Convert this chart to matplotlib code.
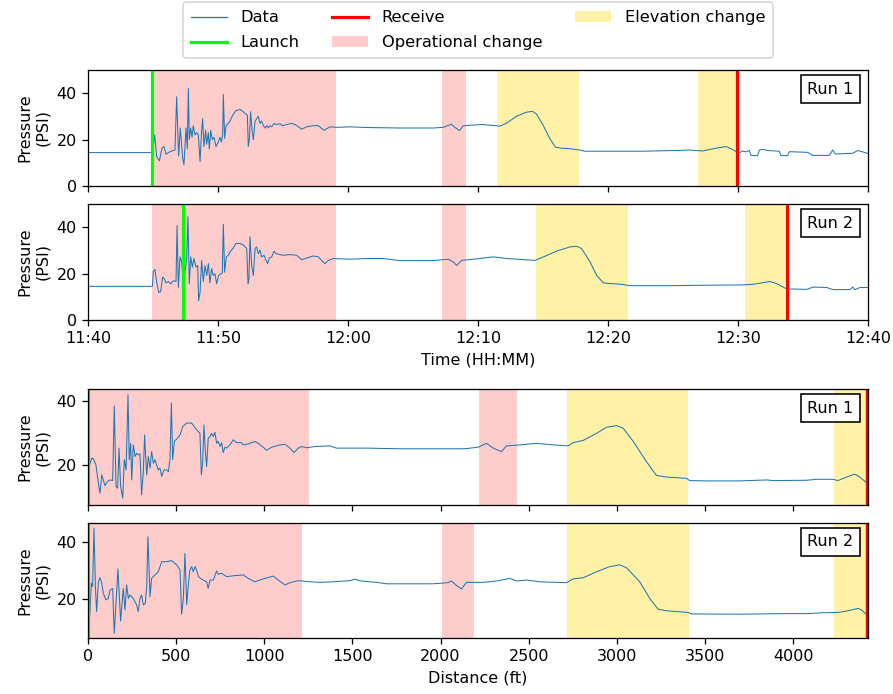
import matplotlib.pyplot as plt
import matplotlib.dates as mdates
import numpy as np
from matplotlib.lines import Line2D
from matplotlib.patches import Patch

# Run 1, pressure vs time (minutes after 11:40)
run1_min = [0, 4.82, 4.97, 5.13, 5.28, 5.49, 5.69, 5.85, 6.00, 6.18,
            6.44, 6.69, 6.82, 6.97, 7.10, 7.28, 7.38, 7.54, 7.64, 7.72,
            7.79, 7.90, 8.00, 8.10, 8.23, 8.36, 8.49, 8.62, 8.72, 8.82,
            8.92, 9.05, 9.13, 9.26, 9.33, 9.44, 9.56, 9.69, 9.85, 10.03,
            10.15, 10.26, 10.36, 10.41, 10.51, 10.62, 10.79, 10.92, 11.18, 11.38,
            11.69, 11.95, 12.13, 12.26, 12.33, 12.41, 12.51, 12.62, 12.72, 12.85,
            12.97, 13.10, 13.23, 13.36, 13.49, 13.62, 13.74, 13.87, 14.00, 14.13,
            14.31, 14.46, 14.77, 14.97, 15.28, 15.67, 15.92, 16.44, 16.82, 17.33,
            17.72, 18.15, 18.62, 19.13, 20.15, 21.44, 24.0, 26.56, 27.33, 27.95,
            28.28, 28.59, 28.85, 29.36, 30.38, 31.67, 32.18, 32.95, 33.72, 34.18,
            34.49, 35.00, 35.51, 35.97, 36.41, 37.05, 37.82, 38.21, 40.1, 42.67,
            45.23, 46.26, 47.28, 48.31, 49.08, 49.46, 50.05, 50.36, 50.62, 50.87,
            51.0, 51.51, 51.64, 51.9, 52.28, 53.18, 53.31, 53.82, 53.95, 55.36,
            55.74, 57.03, 57.28, 57.49, 58.82, 59.21, 59.59, 60.0]
run1_psi = [14.4, 14.4, 14.5, 22.0, 12.7, 10.8, 16.3, 17.0, 13.7, 14.4,
            15.1, 15.5, 38.5, 13.0, 25.0, 12.0, 9.2, 25.0, 16.0, 42.0,
            20.0, 25.0, 21.0, 26.0, 22.0, 23.0, 22.0, 10.5, 22.0, 29.0,
            17.0, 24.0, 18.0, 23.0, 16.0, 24.0, 20.0, 21.0, 17.0, 19.0,
            21.0, 19.0, 22.0, 39.5, 20.5, 26.0, 27.0, 28.0, 31.0, 32.5,
            33.0, 32.0, 31.0, 30.5, 17.0, 20.0, 32.0, 24.0, 20.0, 28.0,
            29.0, 30.0, 27.0, 28.0, 26.0, 25.0, 26.0, 25.0, 26.0, 25.5,
            27.0, 26.5, 26.8, 26.0, 26.5, 27.0, 26.5, 24.5, 25.5, 26.0,
            26.0, 24.0, 25.5, 25.3, 25.5, 25.2, 25.0, 25.0, 25.3, 26.6,
            25.0, 23.9, 25.9, 26.2, 26.5, 25.8, 27.0, 30.0, 31.8, 32.2,
            31.1, 26.3, 20.6, 16.7, 16.3, 16.1, 15.5, 15.0, 15.0, 15.0,
            15.3, 15.5, 15.1, 16.3, 17.0, 16.1, 14.2, 15.1, 14.7, 15.3,
            13.1, 13.1, 15.5, 15.8, 15.3, 15.0, 13.1, 13.1, 14.8, 14.5,
            13.2, 13.2, 15.5, 13.8, 14.1, 15.3, 14.7, 14.0]

# Run 2, pressure vs time (minutes after 11:40)
run2_min = [0, 4.95, 5.03, 5.15, 5.28, 5.44, 5.59, 5.74, 5.87, 6.00,
            6.18, 6.36, 6.56, 6.77, 6.85, 6.95, 7.08, 7.21, 7.31, 7.46,
            7.59, 7.69, 7.79, 7.90, 8.03, 8.15, 8.31, 8.44, 8.51, 8.62,
            8.74, 8.87, 9.00, 9.13, 9.26, 9.38, 9.51, 9.64, 9.77, 9.90,
            10.05, 10.21, 10.33, 10.41, 10.51, 10.64, 10.79, 10.97, 11.18, 11.38,
            11.69, 11.95, 12.21, 12.31, 12.38, 12.46, 12.59, 12.72, 12.85, 12.97,
            13.10, 13.23, 13.36, 13.54, 13.69, 13.82, 13.95, 14.13, 14.31, 14.46,
            14.77, 15.03, 15.54, 16.05, 16.44, 16.82, 17.33, 17.72, 17.97, 18.23,
            18.49, 18.87, 20.15, 21.44, 22.72, 24.0, 26.56, 27.72, 28.1, 28.36,
            28.74, 29.64, 31.18, 32.21, 34.38, 35.03, 36.05, 37.08, 37.59, 37.97,
            38.62, 39.13, 39.64, 40.15, 41.05, 41.69, 45.03, 47.59, 50.15, 51.18,
            52.46, 52.97, 53.74, 55.28, 55.79, 56.82, 57.33, 58.62, 58.82, 59.0,
            59.38, 60.0]
run2_psi = [14.5, 14.5, 20.9, 21.8, 16.3, 11.9, 12.2, 18.5, 17.7, 16.0,
            16.6, 15.6, 16.9, 16.6, 40.7, 14.1, 27.2, 25.0, 17.5, 20.6,
            26.5, 44.5, 15.6, 27.2, 22.8, 26.5, 22.8, 23.5, 8.3, 11.9,
            25.7, 16.6, 23.5, 19.2, 24.3, 16.0, 22.1, 19.2, 19.9, 15.6,
            19.2, 19.9, 20.3, 41.3, 20.6, 27.2, 27.9, 29.7, 31.1, 33.0,
            33.0, 32.3, 30.8, 15.6, 17.7, 35.9, 23.5, 19.2, 30.8, 31.5,
            28.6, 30.1, 27.2, 27.9, 25.7, 24.3, 26.7, 27.2, 29.7, 28.6,
            28.2, 27.9, 28.2, 27.9, 26.0, 26.7, 27.6, 27.2, 25.7, 24.3,
            25.7, 26.5, 26.2, 26.5, 26.5, 25.6, 25.6, 26.2, 25.0, 23.5,
            25.7, 26.2, 27.2, 26.5, 25.7, 27.2, 29.7, 31.5, 31.8, 30.8,
            25.0, 19.2, 16.0, 15.7, 15.4, 14.8, 14.8, 15.0, 15.1, 15.4,
            16.6, 15.7, 13.4, 13.2, 14.2, 14.0, 13.1, 13.1, 14.2, 13.1,
            14.0, 14.0]

# Run 1, pressure vs distance (ft)
run1_ft = [0, 4, 21, 30, 45, 59, 68, 78, 87, 96,
           110, 125, 140, 149, 159, 168, 176, 185, 197, 206,
           216, 227, 234, 242, 248, 257, 267, 276, 285, 295,
           304, 314, 321, 333, 342, 352, 361, 371, 380, 389,
           399, 408, 418, 431, 446, 456, 465, 473, 480, 490,
           503, 522, 537, 560, 588, 616, 635, 643, 650, 658,
           665, 673, 682, 692, 701, 711, 720, 730, 739, 749,
           758, 767, 777, 786, 796, 805, 824, 843, 871, 881,
           909, 947, 966, 994, 1013, 1042, 1089, 1117, 1146, 1168,
           1193, 1212, 1240, 1287, 1372, 1410, 1580, 1769, 1996, 2138,
           2214, 2261, 2299, 2346, 2374, 2450, 2545, 2639, 2724, 2752,
           2809, 2885, 2941, 2998, 3036, 3093, 3168, 3225, 3282, 3395,
           3414, 3509, 3698, 3849, 3887, 4076, 4132, 4227, 4255, 4303,
           4350, 4378, 4416, 4425]
run1_ft_psi = [18.5, 19.0, 22.1, 21.9, 20.0, 14.3, 11.2, 16.9, 15.3, 13.5,
               14.8, 15.3, 15.1, 38.3, 13.3, 12.7, 25.2, 13.3, 9.6, 21.6,
               18.4, 41.8, 21.6, 26.7, 15.3, 26.2, 22.6, 23.6, 23.1, 23.4,
               10.7, 17.9, 29.3, 16.9, 22.6, 19.0, 24.1, 20.5, 21.6, 20.0,
               18.4, 19.0, 16.4, 18.4, 18.4, 17.9, 21.6, 39.2, 21.6, 27.3,
               28.0, 29.3, 31.9, 33.0, 33.0, 30.9, 29.8, 16.9, 20.5, 32.4,
               24.7, 19.5, 28.3, 28.8, 29.8, 28.8, 30.1, 26.7, 27.3, 25.7,
               26.9, 23.8, 25.5, 25.2, 25.7, 26.2, 27.8, 26.9, 26.9, 26.2,
               26.5, 27.3, 26.7, 25.5, 24.5, 25.5, 26.2, 26.4, 25.2, 23.8,
               25.2, 25.7, 25.3, 25.7, 25.9, 25.2, 25.2, 25.0, 25.0, 25.0,
               25.5, 26.7, 25.2, 24.1, 25.9, 26.2, 26.7, 26.2, 25.9, 26.9,
               27.6, 29.8, 31.7, 32.2, 31.4, 27.3, 21.0, 16.7, 16.2, 15.8,
               15.1, 15.0, 15.0, 15.3, 15.1, 15.2, 15.5, 15.5, 15.1, 16.2,
               17.1, 16.2, 14.5, 14.3]

# Run 2, pressure vs distance (ft)
run2_ft = [0, 4, 11, 19, 26, 34, 42, 49, 59, 68,
           78, 87, 102, 115, 125, 140, 149, 170, 185, 200,
           210, 219, 229, 238, 257, 276, 285, 295, 304, 314,
           325, 333, 340, 352, 361, 380, 399, 418, 446, 474,
           503, 522, 531, 541, 550, 560, 569, 578, 588, 597,
           607, 616, 626, 645, 673, 682, 692, 711, 730, 739,
           758, 786, 824, 881, 909, 947, 994, 1051, 1079, 1117,
           1146, 1193, 1259, 1316, 1391, 1486, 1514, 1543, 1637, 1694,
           1958, 2043, 2062, 2091, 2119, 2147, 2242, 2318, 2393, 2431,
           2488, 2563, 2715, 2752, 2809, 2885, 2960, 3017, 3055, 3130,
           3187, 3235, 3282, 3405, 3424, 3698, 3925, 4076, 4170, 4255,
           4303, 4369, 4388, 4420, 4425]
run2_ft_psi = [8.2, 9.2, 15.6, 25.5, 24.3, 44.7, 24.3, 15.6, 26.0, 27.4,
               25.5, 22.0, 19.7, 20.2, 23.1, 23.7, 8.0, 30.5, 12.3, 23.7,
               16.2, 24.9, 20.2, 21.4, 20.2, 17.9, 15.6, 20.2, 21.4, 17.9,
               18.5, 24.3, 41.7, 20.8, 27.2, 28.4, 29.5, 33.0, 33.0, 33.4,
               31.9, 30.1, 14.7, 20.2, 35.9, 18.1, 24.9, 30.1, 31.3, 29.5,
               31.3, 30.1, 27.8, 26.9, 26.0, 23.7, 26.6, 26.6, 29.8, 28.6,
               29.0, 27.8, 28.1, 28.4, 27.2, 26.0, 27.0, 28.0, 26.6, 24.9,
               25.7, 26.4, 26.0, 25.8, 26.0, 26.4, 26.9, 26.3, 25.8, 25.3,
               25.3, 25.7, 26.3, 24.7, 23.5, 25.8, 25.8, 26.3, 27.2, 26.3,
               26.6, 26.0, 25.7, 27.0, 27.4, 29.5, 31.3, 31.9, 30.9, 26.0,
               20.2, 16.4, 15.9, 15.3, 14.8, 14.7, 14.9, 14.9, 15.2, 15.3,
               15.8, 16.7, 16.2, 14.4, 14.3]

# events (minutes after 11:40)
run1_launch_min, run1_receive_min = 4.95, 49.92
run2_launch_min, run2_receive_min = 7.31, 53.74
run1_oper_min = [(4.95, 19.05), (27.2, 29.08)]
run1_elev_min = [(31.44, 37.77), (46.92, 49.85)]
run2_oper_min = [(4.9, 19.05), (27.2, 29.08)]
run2_elev_min = [(34.46, 41.56), (50.54, 53.62)]

# events (ft)
run_length_ft = 4425
receive_ft = 4419
run1_oper_ft = [(0, 1253), (2218, 2435)]
run1_elev_ft = [(2717, 3405), (4231, 4425)]
run2_oper_ft = [(0, 1216), (2006, 2190)]
run2_elev_ft = [(2717, 3407), (4231, 4425)]

start = np.datetime64('2024-01-01T11:40')


def to_time(m):
    return start + (np.asarray(m) * 60000).astype('timedelta64[ms]')


data_c = '#1f77b4'
oper_c = (1.0, 0.0, 0.0, 0.2)
elev_c = (1.0, 0.843, 0.0, 0.35)
box = dict(boxstyle='square,pad=0.4', fc='white', ec='black')

fig = plt.figure(figsize=(893 / 115, 694 / 115), dpi=115)
L, W = 88 / 893, 780 / 893
ax1 = fig.add_axes([L, 1 - 186 / 694, W, 116 / 694])
ax2 = fig.add_axes([L, 1 - 320 / 694, W, 116 / 694], sharex=ax1)
ax3 = fig.add_axes([L, 1 - 505 / 694, W, 116 / 694])
ax4 = fig.add_axes([L, 1 - 638 / 694, W, 115 / 694], sharex=ax3)

time_runs = [(ax1, run1_min, run1_psi, run1_oper_min, run1_elev_min, run1_launch_min, run1_receive_min, 'Run 1'),
             (ax2, run2_min, run2_psi, run2_oper_min, run2_elev_min, run2_launch_min, run2_receive_min, 'Run 2')]
for ax, t, p, oper, elev, launch, recv, name in time_runs:
    for a, b in oper:
        ax.axvspan(to_time(a), to_time(b), color=oper_c, lw=0)
    for a, b in elev:
        ax.axvspan(to_time(a), to_time(b), color=elev_c, lw=0)
    ax.plot(to_time(t), p, color=data_c, lw=0.65)
    ax.axvline(to_time(launch), color='lime', lw=2)
    ax.axvline(to_time(recv), color='red', lw=2)
    ax.set_ylim(0, 50)
    ax.set_yticks([0, 20, 40])
    ax.set_ylabel('Pressure\n(PSI)')
    ax.text(0.981, 0.9, name, transform=ax.transAxes, ha='right', va='top',
            bbox=box, zorder=5)

ax1.set_xlim(to_time(0), to_time(60))
ax1.xaxis.set_major_locator(mdates.MinuteLocator(byminute=[0, 10, 20, 30, 40, 50]))
ax1.xaxis.set_major_formatter(mdates.DateFormatter('%H:%M'))
ax1.tick_params(labelbottom=False)
ax2.set_xlabel('Time (HH:MM)')

dist_runs = [(ax3, run1_ft, run1_ft_psi, run1_oper_ft, run1_elev_ft, 'Run 1', (7.5, 43.6)),
             (ax4, run2_ft, run2_ft_psi, run2_oper_ft, run2_elev_ft, 'Run 2', (6.4, 46.5))]
for ax, d, p, oper, elev, name, yl in dist_runs:
    for a, b in oper:
        ax.axvspan(a, b, color=oper_c, lw=0)
    for a, b in elev:
        ax.axvspan(a, b, color=elev_c, lw=0)
    ax.plot(d, p, color=data_c, lw=0.65)
    ax.axvline(0, color='lime', lw=2)
    ax.axvline(receive_ft, color='red', lw=1.5)
    ax.set_ylim(*yl)
    ax.set_yticks([20, 40])
    ax.set_ylabel('Pressure\n(PSI)')
    ax.text(0.981, 0.9, name, transform=ax.transAxes, ha='right', va='top',
            bbox=box, zorder=5)

ax3.set_xlim(0, run_length_ft)
ax3.tick_params(labelbottom=False)
ax4.set_xlabel('Distance (ft)')

handles = [Line2D([], [], color=data_c, lw=0.8, label='Data'),
           Line2D([], [], color='lime', lw=2, label='Launch'),
           Line2D([], [], color='red', lw=2, label='Receive'),
           Patch(color=oper_c, lw=0, label='Operational change'),
           Patch(color=elev_c, lw=0, label='Elevation change')]
ax1.legend(handles=handles, ncol=3, loc='lower center', bbox_to_anchor=(0.5, 1.1),
           borderaxespad=0, fontsize=10.2, handlelength=2.2, handletextpad=0.85,
           columnspacing=2.0, labelspacing=0.6, borderpad=0.5)

fig.savefig('out.png', dpi=115)
